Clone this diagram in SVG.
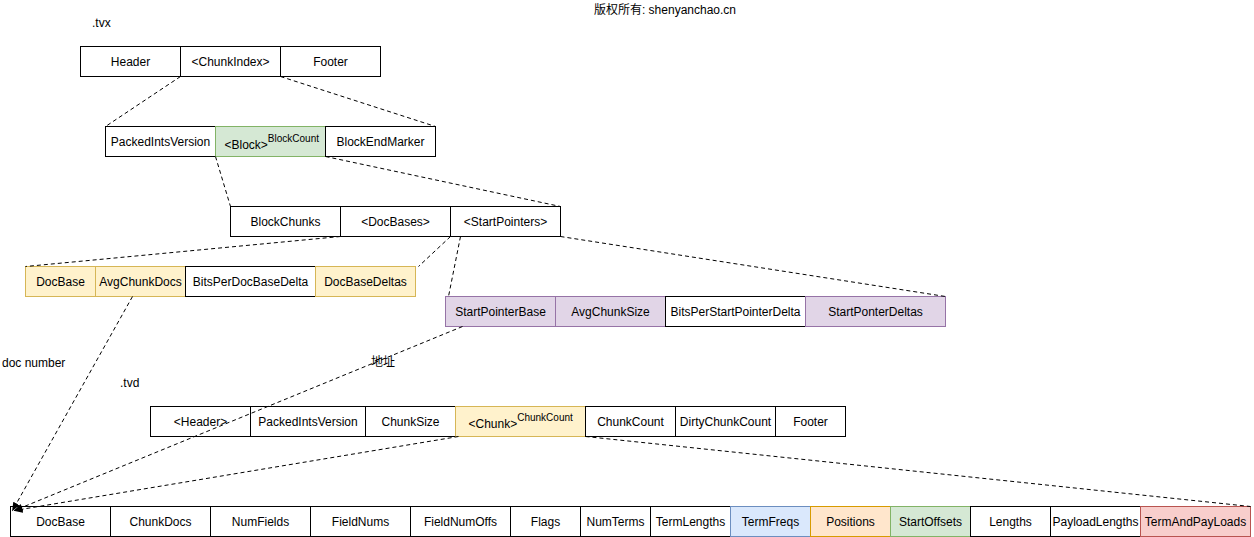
<svg xmlns="http://www.w3.org/2000/svg" width="1254" height="537" viewBox="0 0 1254 537">
<style>
text{font-family:"Liberation Sans",Arial,"Noto Sans CJK SC",sans-serif;font-size:12px;fill:#000}
.c{text-anchor:middle;dominant-baseline:central}
rect{stroke:#000;stroke-width:1;fill:#fff}
.y{fill:#fff2cc;stroke:#d6b656}.g{fill:#d5e8d4;stroke:#82b366}.p{fill:#e1d5e7;stroke:#9673a6}
.b{fill:#dae8fc;stroke:#6c8ebf}.o{fill:#ffe6cc;stroke:#d79b00}.r{fill:#f8cecc;stroke:#b85450}
.l{fill:none;stroke:#000;stroke-width:1;stroke-dasharray:4 3}
</style>
<defs><marker id="a" viewBox="0 0 10 10" refX="9" refY="5" markerWidth="9" markerHeight="9" markerUnits="userSpaceOnUse" orient="auto"><path d="M0,1 L10,5 L0,9 z" fill="#000"/></marker></defs>
<rect x="0" y="0" width="1254" height="537" style="fill:#fff;stroke:none"/>
<text x="665" y="10" class="c">版权所有: shenyanchao.cn</text>
<text x="92" y="27">.tvx</text>
<text x="120" y="387">.tvd</text>
<text x="2" y="367">doc number</text>
<text x="383" y="362" class="c">地址</text>
<g transform="translate(0.5,0.5)">
<g id="tvx"><rect x="80" y="46" width="100" height="30"/><text x="130" y="61" class="c">Header</text>
<rect x="180" y="46" width="100" height="30"/><text x="230" y="61" class="c">&lt;ChunkIndex&gt;</text>
<rect x="280" y="46" width="100" height="30"/><text x="330" y="61" class="c">Footer</text></g>
<g id="chunkindex"><rect x="105" y="126" width="110" height="30"/><text x="160" y="141" class="c">PackedIntsVersion</text>
<rect x="215" y="126" width="110" height="30" class="g"/><text x="224" y="148">&lt;Block&gt;<tspan dy="-7" font-size="10">BlockCount</tspan></text>
<rect x="325" y="126" width="110" height="30"/><text x="380" y="141" class="c">BlockEndMarker</text></g>
<g id="block"><rect x="230" y="206" width="110" height="30"/><text x="285" y="221" class="c">BlockChunks</text>
<rect x="340" y="206" width="110" height="30"/><text x="395" y="221" class="c">&lt;DocBases&gt;</text>
<rect x="450" y="206" width="110" height="30"/><text x="505" y="221" class="c">&lt;StartPointers&gt;</text></g>
<g id="docbases"><rect x="25" y="266" width="70" height="30" class="y"/><text x="60" y="281" class="c">DocBase</text>
<rect x="95" y="266" width="90" height="30" class="y"/><text x="140" y="281" class="c">AvgChunkDocs</text>
<rect x="185" y="266" width="130" height="30"/><text x="250" y="281" class="c">BitsPerDocBaseDelta</text>
<rect x="315" y="266" width="100" height="30" class="y"/><text x="365" y="281" class="c">DocBaseDeltas</text></g>
<g id="startpointers"><rect x="445" y="296" width="110" height="30" class="p"/><text x="500" y="311" class="c">StartPointerBase</text>
<rect x="555" y="296" width="110" height="30" class="p"/><text x="610" y="311" class="c">AvgChunkSize</text>
<rect x="665" y="296" width="140" height="30"/><text x="735" y="311" class="c">BitsPerStartPointerDelta</text>
<rect x="805" y="296" width="140" height="30" class="p"/><text x="875" y="311" class="c">StartPonterDeltas</text></g>
<g id="tvd"><rect x="150" y="406" width="100" height="30"/><text x="200" y="421" class="c">&lt;Header&gt;</text>
<rect x="250" y="406" width="115" height="30"/><text x="307.500" y="421" class="c">PackedIntsVersion</text>
<rect x="365" y="406" width="90" height="30"/><text x="410" y="421" class="c">ChunkSize</text>
<rect x="455" y="406" width="130" height="30" class="y"/><text x="468" y="427">&lt;Chunk&gt;<tspan dy="-7" font-size="10">ChunkCount</tspan></text>
<rect x="585" y="406" width="90" height="30"/><text x="630" y="421" class="c">ChunkCount</text>
<rect x="675" y="406" width="100" height="30"/><text x="725" y="421" class="c">DirtyChunkCount</text>
<rect x="775" y="406" width="70" height="30"/><text x="810" y="421" class="c">Footer</text></g>
<g id="chunk">
<rect x="10" y="506" width="100" height="30"/><text x="60" y="521" class="c">DocBase</text>
<rect x="110" y="506" width="100" height="30"/><text x="160" y="521" class="c">ChunkDocs</text>
<rect x="210" y="506" width="100" height="30"/><text x="260" y="521" class="c">NumFields</text>
<rect x="310" y="506" width="100" height="30"/><text x="360" y="521" class="c">FieldNums</text>
<rect x="410" y="506" width="100" height="30"/><text x="460" y="521" class="c">FieldNumOffs</text>
<rect x="510" y="506" width="70" height="30"/><text x="545" y="521" class="c">Flags</text>
<rect x="580" y="506" width="70" height="30"/><text x="615" y="521" class="c">NumTerms</text>
<rect x="650" y="506" width="80" height="30"/><text x="690" y="521" class="c">TermLengths</text>
<rect x="730" y="506" width="80" height="30" class="b"/><text x="770" y="521" class="c">TermFreqs</text>
<rect x="810" y="506" width="80" height="30" class="o"/><text x="850" y="521" class="c">Positions</text>
<rect x="890" y="506" width="80" height="30" class="g"/><text x="930" y="521" class="c">StartOffsets</text>
<rect x="970" y="506" width="80" height="30"/><text x="1010" y="521" class="c">Lengths</text>
<rect x="1050" y="506" width="90" height="30"/><text x="1095" y="521" class="c">PayloadLengths</text>
<rect x="1140" y="506" width="110" height="30" class="r"/><text x="1195" y="521" class="c">TermAndPayLoads</text>
</g>
<g id="connectors">
<path class="l" d="M180,76 L105,126 M280,76 L435,126 M215,156 L230,206 M325,156 L560,206 M340,236 L25,266 M450,236 L418,266 M460,236 L448,296 M560,236 L945,296 M585,436 L1250,506"/>
<path class="l" d="M132,296 L12,510" marker-end="url(#a)"/>
<path class="l" d="M462,326 L14,510" marker-end="url(#a)"/>
<path class="l" d="M458,436 L14,510" marker-end="url(#a)"/>
</g>
</g>
</svg>
